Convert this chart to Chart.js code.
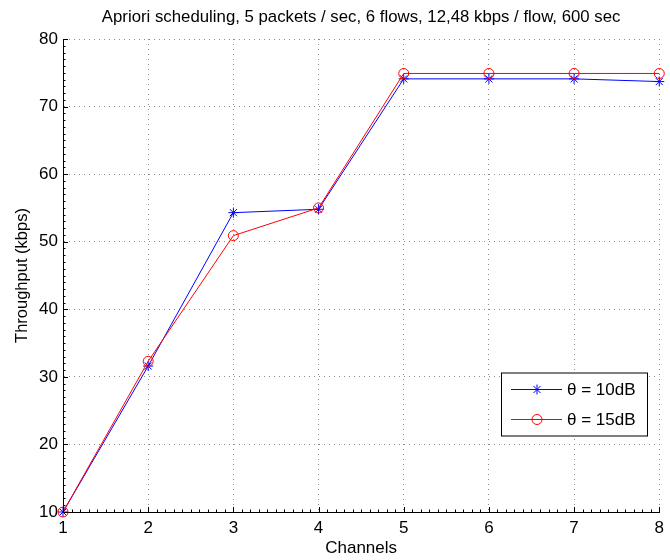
<!DOCTYPE html>
<html>
<head>
<meta charset="utf-8">
<script src="https://cdn.jsdelivr.net/npm/chart.js@4/dist/chart.umd.min.js"></script>
<style>
html,body{margin:0;padding:0;background:#fff;}
#wrap{width:670px;height:560px;}
</style>
</head>
<body>
<div id="wrap"><canvas id="c" width="670" height="560"></canvas></div>
<script>
const channels = [1, 2, 3, 4, 5, 6, 7, 8];
const theta10 = [10, 31.6, 54.3, 54.8, 74.1, 74.1, 74.1, 73.7];
const theta15 = [10, 32.3, 50.9, 55.0, 74.9, 74.9, 74.9, 74.9];
const seriesLabels = ['θ = 10dB', 'θ = 15dB'];
const titleText = 'Apriori scheduling, 5 packets / sec, 6 flows, 12,48 kbps / flow, 600 sec';
const xTitle = 'Channels';
const yTitle = 'Throughput (kbps)';

const FONT = "'Liberation Sans', Arial, Helvetica, sans-serif";

const toXY = (ys) => channels.map((x, i) => ({x: x, y: ys[i]}));

const tickPlugin = {
  id: 'ticksAndLegend',
  afterDraw(chart) {
    const ctx = chart.ctx;
    const xs = chart.scales.x, ys = chart.scales.y;
    const a = chart.chartArea;
    ctx.save();
    // title centred over the plot area
    ctx.fillStyle = '#000';
    ctx.font = '16.8px ' + FONT;
    ctx.textAlign = 'center';
    ctx.textBaseline = 'middle';
    ctx.fillText(titleText, (a.left + a.right) / 2, 17);

    ctx.strokeStyle = '#000';
    ctx.lineWidth = 1;
    ctx.beginPath();
    for (let i = 0; i <= 70; i++) {
      const v = 1 + i / 10;
      const px = Math.round(xs.getPixelForValue(v)) + 0.5;
      const len = (i % 10 === 0) ? 5 : 2.5;
      ctx.moveTo(px, a.bottom);
      ctx.lineTo(px, a.bottom - len);
    }
    for (let i = 0; i <= 70; i++) {
      const v = 10 + i;
      const py = Math.round(ys.getPixelForValue(v)) + 0.5;
      const len = (i % 10 === 0) ? 5 : 2.5;
      ctx.moveTo(a.left, py);
      ctx.lineTo(a.left + len, py);
    }
    ctx.stroke();

    // legend box
    const bx = 501, by = 372.5, bw = 146, bh = 63;
    ctx.fillStyle = '#fff';
    ctx.fillRect(bx, by, bw, bh);
    ctx.strokeStyle = '#000';
    ctx.lineWidth = 1;
    ctx.strokeRect(bx + 0.5, by + 0.5, bw, bh);
    const ds = chart.data.datasets;
    const rowsY = [389.5, 419.5];
    [0, 1].forEach((di, k) => {
      const d = ds[di];
      const y = rowsY[k];
      ctx.strokeStyle = d.borderColor;
      ctx.lineWidth = 1;
      ctx.beginPath();
      ctx.moveTo(511, y);
      ctx.lineTo(562, y);
      ctx.stroke();
      ctx.strokeStyle = d.borderColor;
      ctx.fillStyle = 'rgba(0,0,0,0)';
      Chart.helpers.drawPoint(ctx, {
        pointStyle: d.pointStyle,
        radius: d.pointRadius,
        borderWidth: 1,
        rotation: 0
      }, 537, y);
      ctx.fillStyle = '#000';
      ctx.font = '17px ' + FONT;
      ctx.textAlign = 'left';
      ctx.textBaseline = 'middle';
      ctx.fillText(seriesLabels[di], 567, y + 1);
    });
    ctx.restore();
  }
};

new Chart(document.getElementById('c'), {
  type: 'line',
  data: {
    datasets: [
      {
        label: seriesLabels[0],
        data: toXY(theta10),
        borderColor: '#0000ff',
        backgroundColor: 'rgba(0,0,0,0)',
        borderWidth: 1,
        pointStyle: 'star',
        pointRadius: 5,
        pointBorderWidth: 1,
        pointBorderColor: '#0000ff',
        pointBackgroundColor: 'rgba(0,0,0,0)',
        tension: 0,
        clip: false,
        order: 2
      },
      {
        label: seriesLabels[1],
        data: toXY(theta15),
        borderColor: '#ff0000',
        backgroundColor: 'rgba(0,0,0,0)',
        borderWidth: 1,
        pointStyle: 'circle',
        pointRadius: 5,
        pointBorderWidth: 1,
        pointBorderColor: '#ff0000',
        pointBackgroundColor: 'rgba(0,0,0,0)',
        tension: 0,
        clip: false,
        order: 1
      }
    ]
  },
  options: {
    responsive: false,
    animation: false,
    events: [],
    layout: { padding: { left: 0, right: 5, top: 39, bottom: 0 } },
    plugins: {
      legend: { display: false },
      tooltip: { enabled: false },
      title: { display: false }
    },
    scales: {
      x: {
        type: 'linear',
        min: 1, max: 8,
        afterFit(scale) { scale.height = 48; },
        ticks: { stepSize: 1, color: '#000', padding: 6, maxRotation: 0,
                 font: { family: FONT, size: 17 } },
        grid: { color: '#8c8c8c', lineWidth: 1, drawTicks: false, tickLength: 0 },
        border: { display: true, color: '#000', width: 1, dash: [1, 4] },
        title: { display: true, text: xTitle, color: '#000',
                 font: { family: FONT, size: 17, lineHeight: 1.2 },
                 padding: { top: 0, bottom: 1 } }
      },
      y: {
        type: 'linear',
        min: 10, max: 80,
        afterFit(scale) { scale.width = 63; },
        ticks: { stepSize: 10, color: '#000', padding: 5,
                 font: { family: FONT, size: 17 } },
        grid: { color: '#8c8c8c', lineWidth: 1, drawTicks: false, tickLength: 0 },
        border: { display: true, color: '#000', width: 1, dash: [1, 4] },
        title: { display: true, text: yTitle, color: '#000',
                 font: { family: FONT, size: 16.5, lineHeight: 1.2 },
                 padding: { top: 13, bottom: 0 } }
      }
    }
  },
  plugins: [{
    id: 'solidAxes',
    beforeDatasetsDraw(chart) {
      const ctx = chart.ctx, a = chart.chartArea;
      ctx.save();
      ctx.strokeStyle = '#000';
      ctx.lineWidth = 1;
      ctx.beginPath();
      ctx.moveTo(Math.round(a.left) + 0.5, a.top);
      ctx.lineTo(Math.round(a.left) + 0.5, a.bottom);
      ctx.moveTo(a.left, Math.round(a.bottom) + 0.5);
      ctx.lineTo(a.right, Math.round(a.bottom) + 0.5);
      ctx.stroke();
      ctx.restore();
    }
  }, tickPlugin]
});
</script>
</body>
</html>
